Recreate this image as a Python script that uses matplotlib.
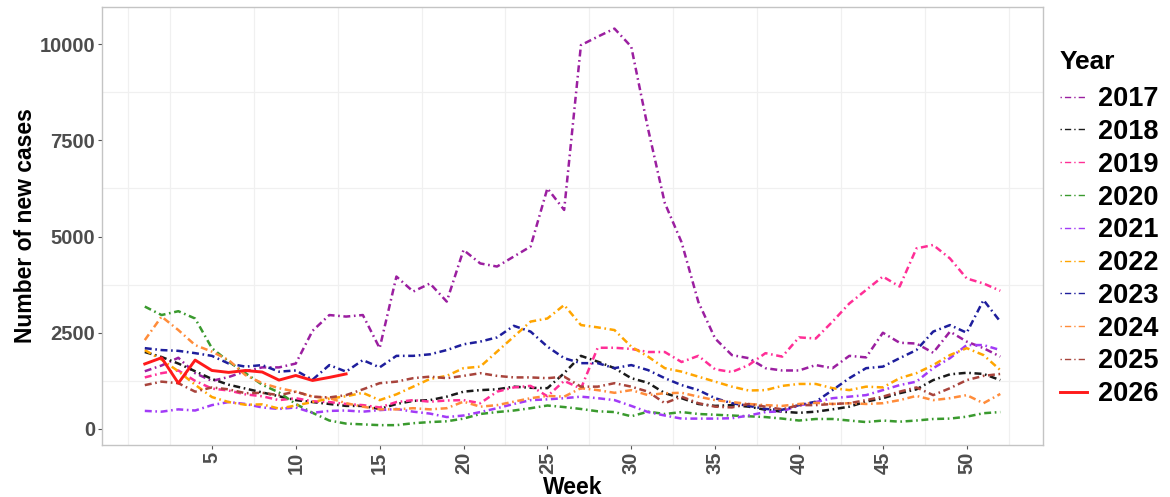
import numpy as np
import matplotlib
matplotlib.use("Agg")
import matplotlib.pyplot as plt
from matplotlib.lines import Line2D

plt.rcParams['font.family'] = ['Liberation Sans', 'DejaVu Sans']
plt.rcParams['font.weight'] = 'bold'
plt.rcParams['lines.scale_dashes'] = False

weeks = list(range(1, 53))
years = ['2017', '2018', '2019', '2020', '2021', '2022', '2023', '2024', '2025', '2026']

cases_2017 = [1500, 1650, 1850, 1450, 1250, 1350, 1500, 1600, 1600, 1700,
              2550, 2960, 2920, 2960, 2100, 3960, 3570, 3780, 3310, 4650,
              4300, 4220, 4480, 4740, 6250, 5690, 9970, 10190, 10400, 9930,
              7800, 5870, 4850, 3300, 2350, 1920, 1840, 1580, 1520, 1520,
              1660, 1580, 1900, 1860, 2500, 2240, 2220, 1980, 2530, 2270,
              2100, 1880]
cases_2018 = [2000, 1870, 1700, 1500, 1300, 1150, 1050, 950, 850, 750,
              700, 650, 600, 600, 520, 650, 730, 750, 840, 970,
              1010, 1030, 1100, 1070, 1060, 1450, 1900, 1750, 1580, 1320,
              1200, 930, 800, 650, 600, 620, 580, 500, 450, 420,
              450, 510, 580, 710, 800, 930, 1030, 1270, 1420, 1460,
              1430, 1270]
cases_2019 = [1340, 1450, 1520, 1250, 1050, 1000, 900, 850, 750, 800,
              720, 700, 650, 620, 560, 700, 750, 710, 740, 750,
              670, 970, 1080, 1120, 850, 1250, 1050, 2110, 2110, 2080,
              2000, 2000, 1740, 1900, 1550, 1480, 1660, 1970, 1880, 2380,
              2350, 2790, 3260, 3610, 3960, 3700, 4690, 4780, 4430, 3910,
              3780, 3590]
cases_2020 = [3180, 2960, 3060, 2870, 2100, 1750, 1450, 1150, 950, 650,
              420, 220, 140, 120, 100, 100, 150, 180, 200, 270,
              390, 440, 480, 540, 610, 570, 520, 460, 440, 330,
              450, 390, 440, 390, 370, 350, 330, 310, 270, 220,
              260, 260, 220, 180, 220, 190, 220, 260, 270, 320,
              410, 440]
cases_2021 = [470, 450, 510, 480, 620, 700, 650, 560, 520, 560,
              420, 470, 480, 450, 490, 520, 450, 400, 310, 350,
              440, 540, 650, 750, 770, 800, 840, 800, 750, 600,
              440, 350, 270, 270, 270, 280, 350, 440, 460, 610,
              700, 800, 840, 880, 1010, 1140, 1230, 1580, 1840, 2180,
              2180, 2050]
cases_2022 = [2050, 1800, 1500, 1150, 830, 700, 630, 640, 530, 610,
              700, 790, 850, 940, 750, 900, 1100, 1300, 1380, 1580,
              1620, 2010, 2400, 2790, 2870, 3220, 2700, 2640, 2570, 2140,
              1880, 1580, 1490, 1360, 1230, 1100, 1000, 1010, 1120, 1170,
              1170, 1060, 1010, 1100, 1080, 1320, 1450, 1660, 1920, 2100,
              1920, 1530]
cases_2023 = [2100, 2050, 2030, 1970, 1900, 1700, 1620, 1660, 1490, 1520,
              1280, 1660, 1490, 1790, 1600, 1900, 1900, 1940, 2050, 2200,
              2270, 2380, 2680, 2530, 2140, 1840, 1710, 1710, 1580, 1660,
              1530, 1320, 1140, 1010, 800, 670, 600, 520, 500, 620,
              710, 1010, 1320, 1580, 1620, 1840, 2050, 2530, 2700, 2500,
              3350, 2790]
cases_2024 = [2310, 2920, 2570, 2180, 2010, 1790, 1400, 1190, 1060, 970,
              840, 800, 670, 580, 510, 510, 540, 510, 540, 710,
              580, 620, 710, 800, 860, 840, 1060, 1010, 940, 1010,
              880, 930, 940, 840, 750, 700, 650, 620, 600, 650,
              680, 650, 670, 650, 670, 750, 860, 750, 800, 880,
              670, 910]
cases_2025 = [1140, 1230, 1190, 970, 1080, 1030, 930, 940, 880, 970,
              840, 820, 880, 1030, 1190, 1230, 1320, 1360, 1320, 1380,
              1450, 1380, 1340, 1340, 1320, 1360, 1100, 1100, 1190, 1100,
              970, 670, 840, 670, 580, 560, 650, 580, 510, 620,
              620, 650, 670, 750, 840, 970, 1080, 880, 1060, 1270,
              1380, 1430]
cases_2026 = [1690, 1850, 1190, 1790, 1520, 1470, 1520, 1480, 1270, 1390,
              1260, 1340, 1430]

series = [cases_2017, cases_2018, cases_2019, cases_2020, cases_2021,
          cases_2022, cases_2023, cases_2024, cases_2025, cases_2026]
colors = ['#9B1FA0', '#1A1A1A', '#FF2E96', '#3A9A2E', '#A23BF7',
          '#FFA500', '#1E1E9C', '#FF8C3A', '#A8443C', '#FF1A1A']

dotdash = (0, (5.0, 2.6, 1.2, 2.6))

fig = plt.figure(figsize=(11.7, 4.97), dpi=100)
ax = fig.add_axes([0.0872, 0.1046, 0.8043, 0.8813])

# faint minor grid only (like the ggplot theme)
for gx in [0] + list(np.arange(2.5, 55, 5)):
    ax.axvline(gx, color='#F0F0F0', lw=0.9, zorder=0)
for gy in [1250, 3750, 6250, 8750]:
    ax.axhline(gy, color='#F0F0F0', lw=0.9, zorder=0)

handles = []
for yr, vals, col in zip(years, series, colors):
    wk = weeks[:len(vals)]
    if yr == '2026':
        ax.plot(wk, vals, color=col, lw=2.1, zorder=3)
        handles.append(Line2D([], [], color=col, lw=2.1))
    else:
        ax.plot(wk, vals, color=col, lw=1.8, linestyle=dotdash,
                dash_capstyle='butt', zorder=2)
        handles.append(Line2D([], [], color=col, lw=1.0,
                              linestyle=(0, (1.0, 2.2, 4.5, 2.2))))

ax.set_xlim(-1.55, 54.55)
ax.set_ylim(-416, 10961)
ax.set_xticks(range(5, 51, 5))
ax.set_yticks([0, 2500, 5000, 7500, 10000])
ax.tick_params(axis='both', length=3, width=0.8, color='#555555',
               labelcolor='#4D4D4D', labelsize=14.5, pad=2)
ax.tick_params(axis='x', labelrotation=90)
for lab in ax.get_xticklabels() + ax.get_yticklabels():
    lab.set_fontweight('bold')
for sp in ax.spines.values():
    sp.set_color('#C4C4C4')
    sp.set_linewidth(1.0)

ax.set_xlabel('Week', fontsize=16.5, fontweight='bold', labelpad=1)
ax.set_ylabel('Number of new cases', fontsize=16.5, fontweight='bold', labelpad=2)

leg = ax.legend(handles, years, title='Year', loc='upper left',
                bbox_to_anchor=(0.906, 0.90), bbox_transform=fig.transFigure,
                frameon=False, fontsize=19.5, title_fontsize=19,
                handlelength=1.0, handletextpad=0.4, labelspacing=0.25,
                borderaxespad=0, borderpad=0)
leg._legend_box.align = 'left'
leg._legend_box.sep = 9
for t in leg.get_texts():
    t.set_fontweight('bold')
leg.get_title().set_fontweight('bold')

fig.savefig('out.png', dpi=100)
